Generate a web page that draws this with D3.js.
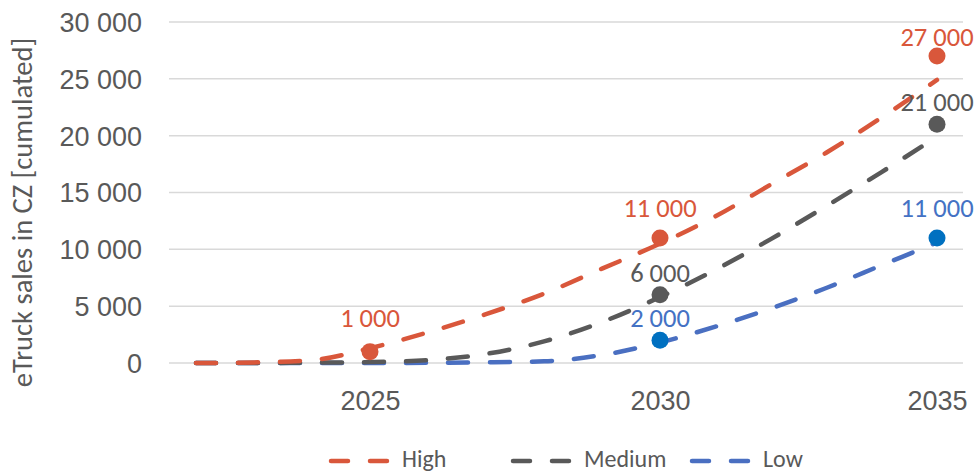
<!DOCTYPE html>
<html>
<head>
<meta charset="utf-8">
<script src="https://cdn.jsdelivr.net/npm/d3@7"></script>
<style>
  html, body { margin: 0; padding: 0; background: #ffffff; }
  svg { display: block; font-family: Carlito, Lato, "Open Sans", sans-serif; }
</style>
</head>
<body>
<svg id="chart" width="980" height="476"></svg>
<script>
// Years on the category axis and the ones that carry a label
const years = [2022, 2023, 2024, 2025, 2026, 2027, 2028, 2029, 2030, 2031, 2032, 2033, 2034, 2035];
const labelledYears = [2025, 2030, 2035];
const yTicks = [0, 5000, 10000, 15000, 20000, 25000, 30000];

// Yearly trajectories (cumulated eTruck sales)
const highSeries   = [0, 50, 250, 1300, 2700, 4300, 6100, 8300, 10500, 12900, 15700, 18500, 21600, 24900];
const mediumSeries = [0, 0, 30, 80, 250, 800, 1900, 3600, 5800, 8200, 10900, 13800, 16800, 19900];
const lowSeries    = [0, 0, 0, 0, 20, 60, 150, 700, 1800, 3200, 4800, 6600, 8600, 10600];

// Milestone points with their stated values
const highPoints   = [{ year: 2025, value: 1000 }, { year: 2030, value: 11000 }, { year: 2035, value: 27000 }];
const mediumPoints = [{ year: 2030, value: 6000 }, { year: 2035, value: 21000 }];
const lowPoints    = [{ year: 2030, value: 2000 }, { year: 2035, value: 11000 }];

const seriesNames = ["High", "Medium", "Low"];

const styles = {
  High:   { line: "#D9573B", marker: "#D9573B", label: "#D9573B" },
  Medium: { line: "#595959", marker: "#595959", label: "#595959" },
  Low:    { line: "#4A6FC1", marker: "#0070C0", label: "#4472C4" }
};

// vertical offset of each value label above its marker
const labelOffset = {
  "High-2025": -25, "High-2030": -21, "High-2035": -10,
  "Medium-2030": -13, "Medium-2035": -13,
  "Low-2030": -13, "Low-2035": -21
};

const svg = d3.select("#chart");
const plot = { left: 169, right: 963, top: 22, bottom: 363 };

const x = d3.scaleLinear()
  .domain([2022, 2030, 2035])
  .range([plot.left + 27, 660, plot.right - 26]);

const y = d3.scaleLinear()
  .domain([0, 30000])
  .range([plot.bottom, plot.top]);

const fmt = v => d3.format(",")(v).replace(/,/g, " ");
const textColor = "#595959";

// gridlines
svg.append("g")
  .selectAll("line")
  .data(yTicks)
  .join("line")
  .attr("x1", plot.left).attr("x2", plot.right)
  .attr("y1", d => y(d)).attr("y2", d => y(d))
  .attr("stroke", "#D9D9D9")
  .attr("stroke-width", 1.5);

// y axis labels
const yAxis = d3.axisLeft(y).tickValues(yTicks).tickSize(0).tickPadding(0).tickFormat(fmt);
const gy = svg.append("g").attr("transform", `translate(142,0)`).call(yAxis);
gy.select(".domain").remove();
gy.selectAll("text")
  .attr("fill", textColor)
  .style("font-size", "27px")
  .attr("dy", "0.35em");

// x axis labels
const xAxis = d3.axisBottom(x).tickValues(labelledYears).tickSize(0).tickPadding(0).tickFormat(d3.format("d"));
const gx = svg.append("g").attr("transform", `translate(0,${plot.bottom})`).call(xAxis);
gx.select(".domain").remove();
gx.selectAll("text")
  .attr("fill", textColor)
  .style("font-size", "27px")
  .attr("y", 47)
  .attr("dy", 0);

// y axis title
svg.append("text")
  .attr("transform", `translate(32,${(plot.top + plot.bottom) / 2 + 20}) rotate(-90)`)
  .attr("text-anchor", "middle")
  .attr("fill", textColor)
  .style("font-size", "28.5px")
  .text("eTruck sales in CZ [cumulated]");

// dashed trajectories
const line = d3.line()
  .x((d, i) => x(years[i]))
  .y(d => y(d))
  .curve(d3.curveMonotoneX);

const seriesData = { High: highSeries, Medium: mediumSeries, Low: lowSeries };
const pointData = { High: highPoints, Medium: mediumPoints, Low: lowPoints };

seriesNames.slice().reverse().forEach(name => {
  svg.append("path")
    .datum(seriesData[name])
    .attr("d", line)
    .attr("fill", "none")
    .attr("stroke", styles[name].line)
    .attr("stroke-width", 4.5)
    .attr("stroke-linecap", "round")
    .attr("stroke-dasharray", "20,22");
});

// markers and value labels
seriesNames.forEach(name => {
  const g = svg.append("g");
  g.selectAll("circle")
    .data(pointData[name])
    .join("circle")
    .attr("cx", d => x(d.year))
    .attr("cy", d => y(d.value))
    .attr("r", 8.5)
    .attr("fill", styles[name].marker);
  g.selectAll("text")
    .data(pointData[name])
    .join("text")
    .attr("x", d => x(d.year))
    .attr("y", d => y(d.value) + labelOffset[`${name}-${d.year}`])
    .attr("text-anchor", "middle")
    .attr("fill", styles[name].label)
    .style("font-size", "26.5px")
    .text(d => fmt(d.value));
});

// legend
const legendItems = [
  { name: "High", x: 331 },
  { name: "Medium", x: 513 },
  { name: "Low", x: 692 }
];
const legend = svg.append("g").attr("transform", "translate(0,461)");
legendItems.forEach(item => {
  legend.append("line")
    .attr("x1", item.x).attr("x2", item.x + 56)
    .attr("y1", 0).attr("y2", 0)
    .attr("stroke", styles[item.name].line)
    .attr("stroke-width", 4.5)
    .attr("stroke-linecap", "round")
    .attr("stroke-dasharray", "17,22");
  legend.append("text")
    .attr("x", item.x + 71)
    .attr("y", 6)
    .attr("fill", textColor)
    .style("font-size", "24px")
    .text(item.name);
});
</script>
</body>
</html>
